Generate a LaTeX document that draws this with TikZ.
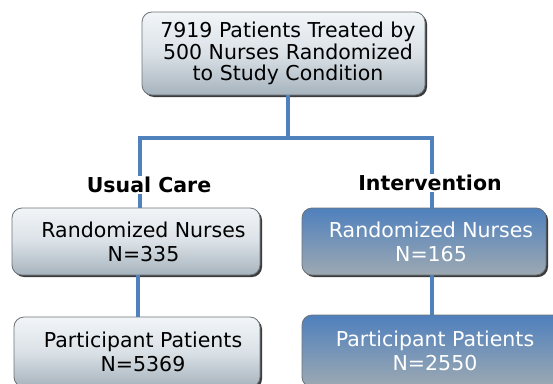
\documentclass[tikz,border=0pt]{standalone}
\usepackage{fontspec}
\setmainfont{DejaVu Sans}
\usetikzlibrary{shadows}
\definecolor{connblue}{HTML}{4F81BD}
\definecolor{lighttop}{HTML}{F1F5F8}
\definecolor{lightbot}{HTML}{A6B3BD}
\definecolor{bluetop}{HTML}{4F80BD}
\definecolor{bluebot}{HTML}{9DA9B2}
\definecolor{boxedge}{HTML}{6E7378}
\newcommand{\sh}[1]{\hspace*{#1pt}}
\tikzset{
  box/.style={draw=boxedge, line width=0.8pt, rounded corners=10pt, inner sep=0pt,
    align=center, drop shadow={shadow xshift=2pt, shadow yshift=-2pt, fill=black!85, opacity=0.9}},
  lightbox/.style={box, top color=lighttop, bottom color=lightbot, middle color=lighttop!70!lightbot, text=black},
  bluebox/.style={box, top color=bluetop, bottom color=bluebot, text=white},
  conn/.style={draw=connblue, line width=3.2pt},
  grouplabel/.style={fill=white, inner sep=1pt, font=\bfseries\fontsize{20.5}{22}\selectfont},
  bigtext/.style={font=\fontsize{20.5}{21.5}\selectfont},
  midtext/.style={font=\fontsize{20.5}{24}\selectfont}
}
\begin{document}
\begin{tikzpicture}[x=1pt, y=-1pt]
\useasboundingbox (0,0) rectangle (553,383);
\clip (0,0) rectangle (553,383);
\fill[white] (0,0) rectangle (553,383);
% boxes
\node[lightbox, bigtext, minimum width=283pt, minimum height=83pt] (top) at (283.5,53.5)
  {\sh{9}7919 Patients Treated by\\\sh{9}500 Nurses Randomized\\\sh{9}to Study Condition};
\node[lightbox, midtext, minimum width=248pt, minimum height=67pt] (L1) at (136,241.5)
  {\sh{15}Randomized Nurses\\\sh{15}N=335};
\node[lightbox, midtext, minimum width=246pt, minimum height=70pt] (L2) at (137,352)
  {\sh{12}Participant Patients\\\sh{12}N=5369};
\node[bluebox, midtext, minimum width=244pt, minimum height=67pt] (R1) at (424,241.5)
  {\sh{14}Randomized Nurses\\\sh{14}N=165};
\node[bluebox, midtext, minimum width=266pt, minimum height=72pt] (R2) at (435,351)
  {Participant Patients\\N=2550};
% junction coordinates
\coordinate (hl) at (140,138);
\coordinate (hr) at (432,138);
% connectors
\draw[conn] ([xshift=4.5pt]top.south) -- ([xshift=4.5pt]top.south |- hl);
\draw[conn] (hl |- L1.north) -- (hl) -- (hr) -- (hr |- R1.north);
\draw[conn] ([xshift=2pt]L1.south) -- ([xshift=2pt]L1.south |- L2.north);
\draw[conn] (hr |- R1.south) -- (hr |- R2.north);
% group labels
\node[grouplabel] (uc) at (149,185) {Usual Care};
\node[grouplabel] (iv) at (430,183) {Intervention};
\end{tikzpicture}
\end{document}
